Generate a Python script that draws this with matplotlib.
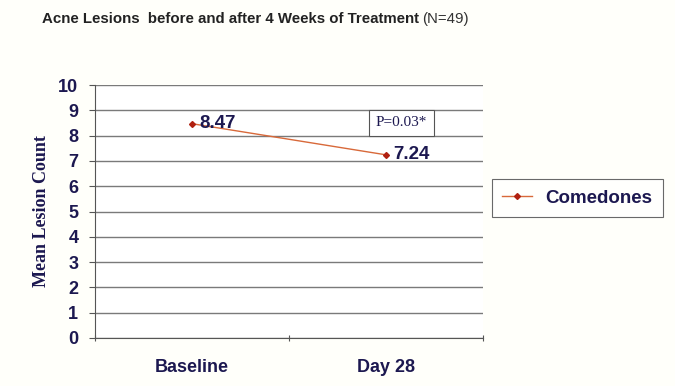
import matplotlib.pyplot as plt
from matplotlib.lines import Line2D

categories = ["Baseline", "Day 28"]
comedones = [8.47, 7.24]
yticks = list(range(0, 11))
title_main = "Acne Lesions  before and after 4 Weeks of Treatment"
title_n = "(N=49)"
p_text = "P=0.03*"

navy = "#1c1850"
W, H = 675, 386
fig = plt.figure(figsize=(W/100, H/100), dpi=100, facecolor="#fffffa")
ax = fig.add_axes([95/W, 1-338/H, (483-95)/W, (338-85)/H])
ax.set_facecolor("white")

x = [0.5, 1.5]
ax.plot(x, comedones, color="#d8693a", lw=1.0, marker="D", ms=3,
        mfc="#b02010", mec="#b02010", zorder=3)
for xi, v in zip(x, comedones):
    ax.annotate(f"{v:.2f}", (xi, v), xytext=(5, 0), textcoords="offset points",
                fontsize=13.5, fontweight="bold", color=navy, family="Liberation Sans",
                va="center", ha="left")

ax.set_xlim(0, 2)
ax.set_ylim(0, 10)
ax.set_yticks(yticks)
ax.set_yticklabels([str(t) for t in yticks], fontsize=13, fontweight="bold",
                   color=navy, family="Liberation Sans")
ax.set_xticks([0, 1, 2])
ax.set_xticklabels([])
ax.set_xticks(x, minor=True)
ax.set_xticklabels(categories, minor=True, fontsize=13, fontweight="bold",
                   color=navy, family="Liberation Sans")
ax.tick_params(axis="x", which="minor", length=0, pad=15)
ax.tick_params(axis="x", which="major", length=4, direction="inout", color="#555555")
ax.tick_params(axis="y", length=4, direction="out", color="#555555", pad=8)
ax.grid(axis="y", color="#7a7a7a", lw=1.0)
ax.set_axisbelow(True)
for s in ["top", "right"]:
    ax.spines[s].set_visible(False)
for s in ["left", "bottom"]:
    ax.spines[s].set_color("#555555")

ax.set_ylabel("Mean Lesion Count", fontsize=13, fontweight="bold", color=navy,
              family="Liberation Serif", labelpad=6)

ax.text(401.5/W, 1-123/H, p_text, transform=fig.transFigure, fontsize=11,
        family="Liberation Serif", color=navy, ha="center", va="center",
        bbox=dict(boxstyle="square,pad=0.45", fc="white", ec="#555555", lw=0.8))

t1 = fig.text(42/W, 1-19/H, title_main, fontsize=10.8, fontweight="bold", color="#222222",
              family="Liberation Sans", va="center", ha="left")
fig.canvas.draw()
bb = t1.get_window_extent()
fig.text((bb.x1 + 3)/W, 1-19/H, title_n, fontsize=10.8, color="#333333",
         family="Liberation Sans", va="center", ha="left")

handle = Line2D([], [], color="#d8693a", lw=1.0, marker="D", ms=3,
                mfc="#b02010", mec="#b02010")
leg = fig.legend([handle], ["Comedones"], loc="center left",
                 bbox_to_anchor=(492/W, 1-198/H), frameon=True, fancybox=False,
                 edgecolor="#444444", handlelength=1.6, handletextpad=0.7,
                 prop=dict(family="Liberation Sans", weight="bold", size=13.5),
                 borderpad=0.55, borderaxespad=0)
for txt in leg.get_texts():
    txt.set_color(navy)
leg.get_frame().set_linewidth(0.8)

fig.savefig("out.png", dpi=100, facecolor=fig.get_facecolor())
